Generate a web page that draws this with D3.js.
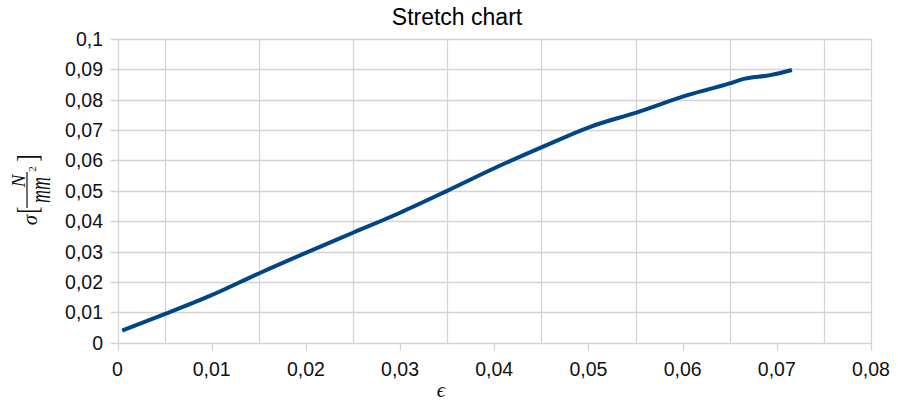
<!DOCTYPE html>
<html>
<head>
<meta charset="utf-8">
<script src="https://cdn.jsdelivr.net/npm/d3@7"></script>
<style>
  html, body { margin: 0; padding: 0; background: #fff; }
  svg { display: block; }
</style>
</head>
<body>
<svg id="chart" width="898" height="402"></svg>
<script>
// ---- data ----
const strain = [0.0005, 0.005, 0.0098, 0.015, 0.0203, 0.025, 0.030, 0.035, 0.0404, 0.045, 0.0502, 0.055, 0.0606, 0.065, 0.0663, 0.0693, 0.0716];
const stress = [0.0040, 0.0094, 0.0154, 0.0228, 0.0300, 0.0362, 0.0428, 0.0500, 0.0580, 0.0643, 0.0711, 0.0757, 0.0816, 0.0854, 0.0867, 0.0881, 0.0898];
const xTickValues = [0, 0.01, 0.02, 0.03, 0.04, 0.05, 0.06, 0.07, 0.08];
const yTickValues = [0, 0.01, 0.02, 0.03, 0.04, 0.05, 0.06, 0.07, 0.08, 0.09, 0.1];
const xGridValues = [0.005, 0.015, 0.025, 0.035, 0.045, 0.055, 0.065, 0.075];
const titleText = "Stretch chart";

(function () {
const svg = d3.select("#chart");
const pLeft = 117.5, pRight = 871, pTop = 39, pBottom = 342.7;
const x = d3.scaleLinear().domain([0, 0.08]).range([pLeft, pRight]);
const y = d3.scaleLinear().domain([0, 0.1]).range([pBottom, pTop]);

const locale = d3.formatLocale({decimal: ",", thousands: ".", grouping: [3], currency: ["", ""]});
const fmt = locale.format(".2~f");
const gridColor = "#d4d4d4";
const font = "'Liberation Sans', Arial, sans-serif";

// grid
const grid = svg.append("g");
grid.selectAll("line.h").data(yTickValues).join("line")
  .attr("x1", pLeft - 7).attr("x2", pRight)
  .attr("y1", d => Math.round(y(d)) + 0.5).attr("y2", d => Math.round(y(d)) + 0.5)
  .attr("stroke", gridColor).attr("stroke-width", 1.3);
grid.selectAll("line.v").data(xGridValues).join("line")
  .attr("y1", pTop).attr("y2", pBottom)
  .attr("x1", d => Math.round(x(d)) + 0.5).attr("x2", d => Math.round(x(d)) + 0.5)
  .attr("stroke", gridColor).attr("stroke-width", 1.3);
// borders
grid.selectAll("line.b").data([0, 0.08]).join("line")
  .attr("y1", pTop).attr("y2", pBottom + 8)
  .attr("x1", d => Math.round(x(d)) + 0.5).attr("x2", d => Math.round(x(d)) + 0.5)
  .attr("stroke", gridColor).attr("stroke-width", 1.3);
// x ticks
grid.selectAll("line.t").data(xTickValues.slice(1, -1)).join("line")
  .attr("y1", pBottom).attr("y2", pBottom + 8)
  .attr("x1", d => Math.round(x(d)) + 0.5).attr("x2", d => Math.round(x(d)) + 0.5)
  .attr("stroke", gridColor).attr("stroke-width", 1.3);

// tick labels
svg.append("g").selectAll("text").data(yTickValues).join("text")
  .attr("x", 103).attr("y", d => y(d) + 7)
  .attr("text-anchor", "end")
  .attr("font-family", font).attr("font-size", 19.5).attr("fill", "#111")
  .text(d => fmt(d));
svg.append("g").selectAll("text").data(xTickValues).join("text")
  .attr("x", d => x(d)).attr("y", 376)
  .attr("text-anchor", "middle")
  .attr("font-family", font).attr("font-size", 19.5).attr("fill", "#111")
  .text(d => fmt(d));

// line
const line = d3.line().x((d, i) => x(strain[i])).y(d => y(d)).curve(d3.curveMonotoneX);
svg.append("path").datum(stress)
  .attr("d", line)
  .attr("fill", "none").attr("stroke", "#004586").attr("stroke-width", 4)
  .attr("stroke-linecap", "butt").attr("stroke-linejoin", "round");

// title
svg.append("text").attr("x", 457).attr("y", 25)
  .attr("text-anchor", "middle")
  .attr("font-family", font).attr("font-size", 23).attr("fill", "#000")
  .text(titleText);

// x label
const serif = "'Liberation Serif', 'DejaVu Serif', serif";
svg.append("text").attr("x", 441).attr("y", 397)
  .attr("text-anchor", "middle")
  .attr("font-family", serif).attr("font-style", "italic").attr("font-size", 21).attr("fill", "#111")
  .text("ϵ");

// y label (rotated)
const yl = svg.append("g").attr("transform", "translate(27,190) rotate(-90)")
  .attr("font-family", serif).attr("fill", "#111");
yl.append("text").attr("x", -30).attr("y", 10).attr("text-anchor", "middle")
  .attr("font-style", "italic").attr("font-size", 21).text("σ");
yl.append("text").attr("transform", "translate(-20,10) scale(1,1.3)").attr("text-anchor", "middle")
  .attr("font-size", 22).text("[");
yl.append("line").attr("x1", -18).attr("x2", 18).attr("y1", 0).attr("y2", 0)
  .attr("stroke", "#111").attr("stroke-width", 1.2);
yl.append("text").attr("x", 9).attr("y", -2).attr("text-anchor", "middle")
  .attr("font-style", "italic").attr("font-size", 19).text("N");
yl.append("text").attr("transform", "translate(0,23) scale(1,1.6)").attr("text-anchor", "middle")
  .attr("font-style", "italic").attr("font-size", 18).text("mm");
yl.append("text").attr("x", 21).attr("y", 9).attr("text-anchor", "middle")
  .attr("font-size", 11).text("2");
yl.append("text").attr("transform", "translate(32,10) scale(1,1.3)").attr("text-anchor", "middle")
  .attr("font-size", 22).text("]");
})();
</script>
</body>
</html>
